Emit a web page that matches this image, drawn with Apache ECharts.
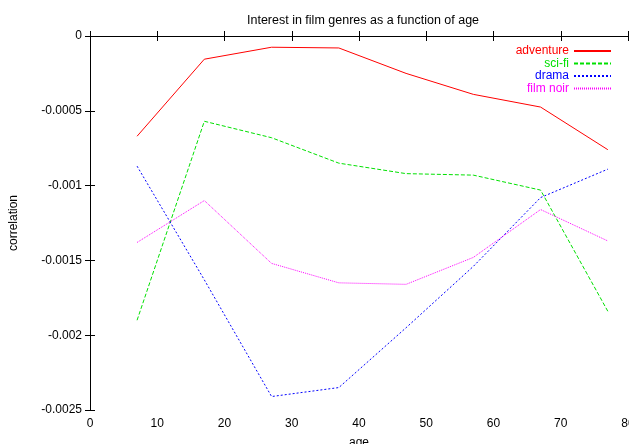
<!DOCTYPE html>
<html>
<head>
    <meta charset="utf-8" />
    <title>film genres</title>
    <script src="https://cdn.jsdelivr.net/npm/echarts@6/dist/echarts.min.js"></script>
    <style>
        body { margin: 0; background: #fff; }
    </style>
</head>
<body>
    <div id="main" style="width: 629px; height: 444px;"></div>
    <script type="text/javascript">
        // ages
        var ages = [7, 17, 27, 37, 47, 57, 67, 77];
        // correlations
        var adventure = [-0.00067, -0.000155, -0.000075, -0.00008, -0.00025, -0.00039, -0.000475, -0.00076];
        var scifi = [-0.0019, -0.00057, -0.00068, -0.00085, -0.00092, -0.00093, -0.00103, -0.00184];
        var drama = [-0.00087, -0.00163, -0.00241, -0.00235, -0.00195, -0.00154, -0.00108, -0.00089];
        var filmnoir = [-0.00138, -0.0011, -0.00152, -0.00165, -0.00166, -0.00148, -0.00116, -0.00137];

        var names = ['adventure', 'sci-fi', 'drama', 'film noir'];
        var colors = ['#ff0000', '#00e000', '#0000ff', '#ff00ff'];
        var dashes = ['solid', [4, 2], [2, 2], [1, 1]];
        var values = [adventure, scifi, drama, filmnoir];

        function pairs(ys) {
            var out = [];
            for (var i = 0; i < ages.length; i++) {
                out.push([ages[i], ys[i]]);
            }
            return out;
        }

        var font = 'Liberation Sans, Arial, sans-serif';
        var axisLine = { show: true, lineStyle: { color: '#000', width: 1 } };
        var tick = { show: true, inside: true, length: 5, lineStyle: { color: '#000' } };

        var series = [];
        var legendData = [];
        for (var s = 0; s < names.length; s++) {
            series.push({
                name: names[s],
                type: 'line',
                symbol: 'none',
                xAxisIndex: 0,
                yAxisIndex: 0,
                data: pairs(values[s]),
                lineStyle: { color: colors[s], width: 1, type: dashes[s] },
                itemStyle: { color: colors[s] }
            });
            legendData.push({ name: names[s], textStyle: { color: colors[s] } });
        }

        var myChart = echarts.init(document.getElementById('main'));
        var option = {
            animation: false,
            title: {
                text: 'Interest in film genres as a function of age',
                left: 242,
                top: 9,
                textStyle: { fontFamily: font, fontSize: 12.5, fontWeight: 'normal', color: '#000' }
            },
            legend: {
                data: legendData,
                orient: 'vertical',
                align: 'right',
                right: 12,
                top: 40,
                itemWidth: 37,
                itemHeight: 12,
                itemGap: 0.5,
                itemStyle: { opacity: 0 },
                textStyle: { fontFamily: font, fontSize: 12, lineHeight: 12 }
            },
            grid: { left: 90, right: 1, top: 36, bottom: 34, outerBoundsMode: 'none' },
            xAxis: [
                {
                    type: 'value', min: 0, max: 80, interval: 10,
                    name: 'age', nameLocation: 'middle', nameGap: 27,
                    nameTextStyle: { fontFamily: font, fontSize: 12, color: '#000' },
                    axisLine: axisLine, axisTick: tick, splitLine: { show: false },
                    axisLabel: { fontFamily: font, fontSize: 12, color: '#000', margin: 8 }
                },
                {
                    type: 'value', min: 0, max: 80, interval: 10, position: 'top',
                    axisLine: axisLine, axisTick: tick, splitLine: { show: false },
                    axisLabel: { show: false }
                }
            ],
            yAxis: [
                {
                    type: 'value', min: -0.0025, max: 0, interval: 0.0005,
                    name: 'correlation', nameLocation: 'middle', nameGap: 70,
                    nameTextStyle: { fontFamily: font, fontSize: 12, color: '#000' },
                    axisLine: axisLine, axisTick: tick, splitLine: { show: false },
                    axisLabel: { fontFamily: font, fontSize: 12, color: '#000', margin: 8 }
                },
                {
                    type: 'value', min: -0.0025, max: 0, interval: 0.0005, position: 'right',
                    axisLine: axisLine, axisTick: tick, splitLine: { show: false },
                    axisLabel: { show: false }
                }
            ],
            series: series
        };
        myChart.setOption(option);
    </script>
</body>
</html>
